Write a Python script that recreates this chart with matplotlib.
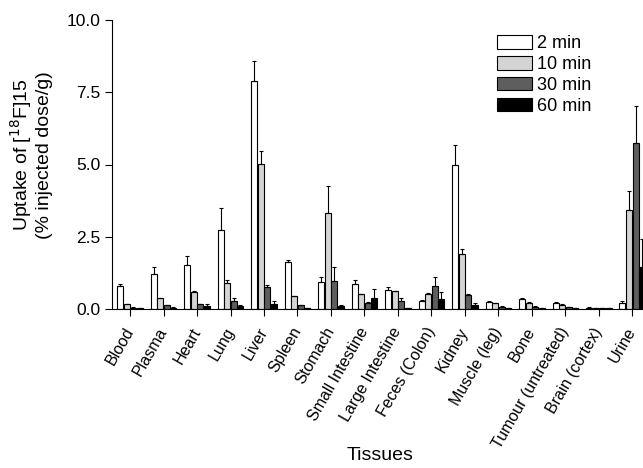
import matplotlib
matplotlib.use("Agg")
import matplotlib.pyplot as plt
import numpy as np

plt.rcParams['font.family'] = ['Liberation Sans', 'DejaVu Sans']

tissues = ["Blood", "Plasma", "Heart", "Lung", "Liver", "Spleen", "Stomach",
           "Small Intestine", "Large Intestine", "Feces (Colon)", "Kidney",
           "Muscle (leg)", "Bone", "Tumour (untreated)", "Brain (cortex)", "Urine"]
series_labels = ["2 min", "10 min", "30 min", "60 min"]

v2 = [0.78, 1.22, 1.53, 2.72, 7.88, 1.62, 0.93, 0.85, 0.66, 0.29, 4.97, 0.25, 0.35, 0.22, 0.05, 0.21]
e2 = [0.08, 0.24, 0.29, 0.77, 0.71, 0.06, 0.18, 0.14, 0.10, 0.02, 0.72, 0.02, 0.02, 0.02, 0.01, 0.08]
v10 = [0.17, 0.37, 0.58, 0.90, 5.02, 0.44, 3.33, 0.51, 0.62, 0.52, 1.91, 0.21, 0.22, 0.15, 0.04, 3.43]
e10 = [0.02, 0.02, 0.03, 0.09, 0.44, 0.02, 0.94, 0.02, 0.02, 0.02, 0.18, 0.01, 0.01, 0.01, 0.01, 0.64]
v30 = [0.05, 0.13, 0.16, 0.29, 0.75, 0.14, 0.96, 0.22, 0.29, 0.78, 0.50, 0.08, 0.08, 0.06, 0.02, 5.76]
e30 = [0.01, 0.01, 0.02, 0.08, 0.07, 0.01, 0.48, 0.02, 0.08, 0.33, 0.02, 0.01, 0.01, 0.01, 0.00, 1.28]
v60 = [0.02, 0.05, 0.09, 0.09, 0.18, 0.03, 0.10, 0.37, 0.03, 0.35, 0.13, 0.03, 0.02, 0.02, 0.02, 1.47]
e60 = [0.00, 0.01, 0.08, 0.06, 0.08, 0.00, 0.04, 0.31, 0.00, 0.23, 0.07, 0.00, 0.00, 0.00, 0.00, 0.96]

values = [v2, v10, v30, v60]
errors = [e2, e10, e30, e60]
colors = ["#ffffff", "#d4d4d4", "#5e5e5e", "#000000"]

W, H = 643, 468
fig = plt.figure(figsize=(W / 100, H / 100), dpi=100)
left_px, right_px, top_px, bot_px = 112, 649, 20, 309
ax = fig.add_axes([left_px / W, 1 - bot_px / H, (right_px - left_px) / W, (bot_px - top_px) / H])

x = np.arange(len(tissues))
w = 0.195
for i in range(4):
    ax.bar(x + (i - 1.5) * w, values[i], w * 0.92, color=colors[i], edgecolor="black",
           linewidth=0.8, label=series_labels[i], zorder=2,
           yerr=[np.zeros(len(tissues)), errors[i]], capsize=1.5,
           error_kw=dict(elinewidth=0.8, capthick=0.8, ecolor="black"))

ax.set_xlim(-0.54, 15.5)
ax.set_ylim(0, 10)
ax.set_yticks([0, 2.5, 5.0, 7.5, 10.0])
ax.set_yticklabels(["0.0", "2.5", "5.0", "7.5", "10.0"], fontsize=12.5)
ax.set_xticks(x)
ax.set_xticklabels(tissues, rotation=60, ha="right", va="center", rotation_mode="anchor", fontsize=11.5)
ax.tick_params(axis="both", direction="out", length=5, width=0.8)
ax.tick_params(axis="x", pad=9)
for s in ["top", "right"]:
    ax.spines[s].set_visible(False)
ax.spines["left"].set_linewidth(0.8)
ax.spines["bottom"].set_linewidth(0.8)

fig.text(31 / W, 1 - 155 / H, "Uptake of [$^{18}$F]15\n(% injected dose/g)", rotation=90,
         ha="center", va="center", fontsize=14, linespacing=1.15)
fig.text(380 / W, 1 - 455 / H, "Tissues", ha="center", va="center", fontsize=14)

leg = ax.legend(loc="upper left", bbox_to_anchor=((490 - left_px) / (right_px - left_px), 1 - (28 - top_px) / (bot_px - top_px)),
                frameon=False, fontsize=13, handlelength=1.9, handleheight=0.75,
                handletextpad=0.3, labelspacing=0.22, borderaxespad=0)

fig.savefig("out.png", dpi=100)
